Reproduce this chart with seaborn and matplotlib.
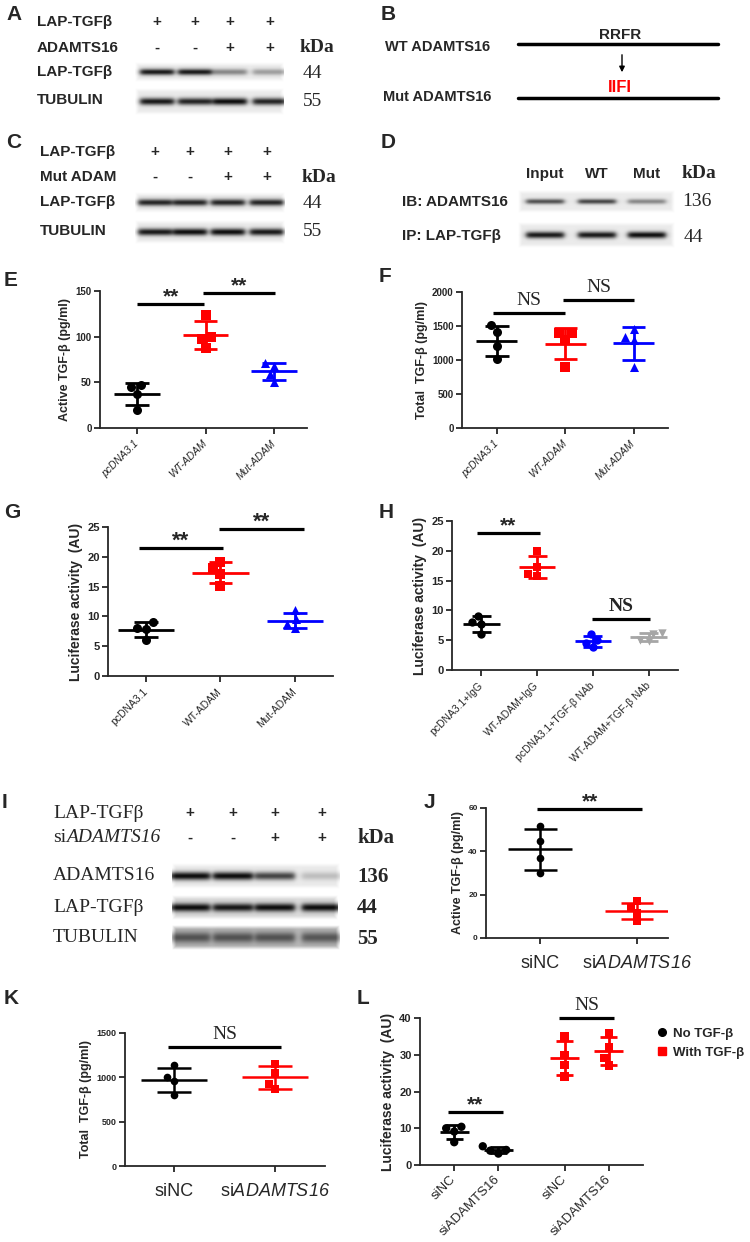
import numpy as np
import pandas as pd
import matplotlib
matplotlib.use('Agg')
import matplotlib.pyplot as plt
from matplotlib.lines import Line2D
import seaborn as sns

# ---- data ----
e_groups = ['pcDNA3.1', 'WT-ADAM', 'Mut-ADAM']
e_vals = [[47, 45, 37, 20], [124, 100, 97, 88], [71, 68, 59, 50]]
e_sig = [(0, 0.98, 135.8, '**'), (0.96, 2.02, 147.8, '**')]

f_vals = [[1510, 1410, 1210, 1010], [1390, 1390, 1290, 900], [1460, 1340, 1290, 890]]
f_sig = [(-0.06, 1.0, 1690, 'NS'), (0.96, 2.01, 1880, 'NS')]

g_vals = [[9.0, 8.1, 7.9, 6.0], [19.1, 18.1, 17.1, 15.1], [11.0, 9.5, 8.7, 8.0]]
g_sig = [(-0.1, 1.04, 21.5, '**'), (0.98, 2.12, 24.7, '**')]

h_groups = ['pcDNA3.1+IgG', 'WT-ADAM+IgG', 'pcDNA3.1+TGF-β NAb', 'WT-ADAM+TGF-β NAb']
h_vals = [[9.1, 8.0, 7.8, 6.0], [20.0, 17.2, 16.1, 15.8], [6.0, 5.0, 4.6, 3.8], [6.2, 6.1, 5.1, 4.9]]
h_sig = [(-0.07, 1.05, 23.0, '**'), (1.98, 3.02, 8.6, 'NS')]

si_groups = ['siNC', 'siADAMTS16']
si_labels = ['siNC', 'si$\\mathsf{ADAMTS16}$']
j_vals = [[51.7, 44.8, 36.9, 30.0], [16.9, 13.8, 11.5, 7.8]]
j_sig = [(-0.03, 1.05, 59.5, '**')]
k_vals = [[1134, 999, 961, 803], [1153, 1051, 923, 867]]
k_sig = [(-0.06, 1.06, 1342, 'NS')]

l_treat = ['No TGF-β', 'With TGF-β']
l_no_tgf = [[10.0, 10.4, 9.1, 6.2], [4.1, 5.1, 3.1, 3.9]]
l_with_tgf = [[35.0, 30.0, 27.3, 24.1], [35.9, 32.0, 29.1, 27.1]]
l_sig = [(-0.26, 0.24, 14.4, '**'), (0.75, 1.25, 40.0, 'NS')]

# western blot band strengths (0 = none, 1 = full)
a_lap = [0.95, 0.95, 0.45, 0.35]
a_tub = [0.95, 0.9, 1.0, 0.9]
c_lap = [0.9, 0.9, 0.9, 0.9]
c_tub = [0.95, 1.0, 1.0, 0.95]
d_ib = [0.7, 0.75, 0.45]
d_ip = [0.95, 0.95, 1.0]
i_adam = [1.0, 1.0, 0.75, 0.2]
i_lap = [1.0, 0.95, 1.0, 1.0]
i_tub = [1.0, 1.0, 1.0, 0.95]

lap_sign = ['+', '+', '+', '+']
treat_sign = ['-', '-', '+', '+']

black, red, blue, grey = '#000000', '#ff0000', '#0000ff', '#a6a6a6'

# ---- style ----
sns.set_style('ticks')
plt.rcParams['font.family'] = ['Liberation Sans', 'DejaVu Sans']
plt.rcParams['mathtext.fontset'] = 'custom'
plt.rcParams['mathtext.rm'] = 'Liberation Sans'
plt.rcParams['mathtext.sf'] = 'Liberation Sans:italic'
plt.rcParams['axes.linewidth'] = 1.3
SERIF = ['Liberation Serif', 'DejaVu Serif']

W, H = 750, 1242
fig = plt.figure(figsize=(7.5, 12.42), dpi=100)


def px_axes(x0, y0, x1, y1):
    return fig.add_axes([x0 / W, 1 - y1 / H, (x1 - x0) / W, (y1 - y0) / H])


ov = fig.add_axes([0, 0, 1, 1], zorder=10)
ov.set_axis_off()
ov.patch.set_alpha(0)


def txt(x, y, s, size, weight='bold', family=None, **kw):
    kw.setdefault('va', 'center')
    kw.setdefault('ha', 'left')
    return ov.text(x, y, s, fontsize=size, fontweight=weight,
                   family=family if family else plt.rcParams['font.family'], **kw)


def blot(box, lanes, levels, half_w, sigma, bg=0.92, dark=0.05):
    x0, x1, y0, y1 = box
    xs = np.linspace(x0, x1, int((x1 - x0) * 2))
    ys = np.linspace(y0, y1, int((y1 - y0) * 2))
    X, Y = np.meshgrid(xs, ys)
    edge = np.clip(np.minimum.reduce([X - x0, x1 - X, Y - y0, y1 - Y]) / 4, 0, 1)
    img = 1 - (1 - bg) * edge
    yc = (y0 + y1) / 2
    for cx, lv in zip(lanes, levels):
        prof = np.exp(-((Y - yc) / sigma) ** 2) * 0.5 * (
            np.tanh((X - cx + half_w) / 3) - np.tanh((X - cx - half_w) / 3))
        img = img - lv * (bg - dark) * prof
    ov.imshow(img, cmap='gray', vmin=0, vmax=1, extent=(x0, x1, y1, y0),
              aspect='auto', interpolation='bilinear', zorder=1)


def dot_panel(ax, groups, vals, colors, markers, size=6.5, mean_w=0.33, cap_w=0.17, lw=2):
    df = pd.DataFrame({'group': np.repeat(groups, [len(v) for v in vals]),
                       'value': np.concatenate(vals)})
    for g, c, m in zip(groups, colors, markers):
        sns.swarmplot(data=df[df.group == g], x='group', y='value', order=groups,
                      color=c, marker=m, size=size, ax=ax, zorder=3)
    stats = df.groupby('group', sort=False)['value'].agg(['mean', 'std'])
    for i, (g, c) in enumerate(zip(groups, colors)):
        mu, sd = stats.loc[g]
        ax.hlines(mu, i - mean_w, i + mean_w, color=c, lw=lw, zorder=2)
        ax.hlines([mu - sd, mu + sd], i - cap_w, i + cap_w, color=c, lw=lw, zorder=2)
        ax.vlines(i, mu - sd, mu + sd, color=c, lw=lw, zorder=2)


def style(ax, ylim, yticks, xlim, tick_fs, ylabel, ylabel_fs):
    ax.set_ylim(*ylim)
    ax.set_yticks(yticks)
    ax.set_xlim(*xlim)
    sns.despine(ax=ax)
    ax.tick_params(width=1.3, length=4, labelsize=tick_fs, pad=2)
    plt.setp(ax.get_yticklabels(), fontweight='bold')
    ax.set_ylabel(ylabel, fontsize=ylabel_fs, fontweight='bold', labelpad=3)
    ax.set_xlabel('')
    ax.patch.set_alpha(0)


def sig(ax, specs, size, ns_weight='normal'):
    for x0, x1, y, lab in specs:
        ax.plot([x0, x1], [y, y], color='k', lw=2.3, clip_on=False, solid_capstyle='butt')
        if lab == '**':
            ax.annotate(lab, xy=((x0 + x1) / 2, y), xytext=(0, 5), textcoords='offset points',
                        ha='center', va='center', fontsize=size, fontweight='bold',
                        annotation_clip=False)
        else:
            ax.annotate(lab, xy=((x0 + x1) / 2, y), xytext=(0, 9), textcoords='offset points',
                        ha='center', va='center', fontsize=size - 1, family=SERIF,
                        fontweight=ns_weight, annotation_clip=False)


# ---- panel letters ----
for s, x, y in [('A', 6, 15), ('B', 381, 15), ('C', 6, 143), ('D', 381, 143),
                ('E', 4, 280), ('F', 379, 276), ('G', 4, 512), ('H', 379, 512),
                ('I', 2, 802), ('J', 424, 802), ('K', 4, 998), ('L', 357, 998)]:
    txt(x, y, s, 15)

# ---- A ----
for y, s in [(22, 'LAP-TGFβ'), (48, 'ADAMTS16'), (72, 'LAP-TGFβ'), (100, 'TUBULIN')]:
    txt(37, y, s, 11)
a_lanes = [157, 195, 230, 270]
for x, p, q in zip(a_lanes, lap_sign, treat_sign):
    txt(x, 22, p, 11, ha='center')
    txt(x, 48, q, 11, ha='center')
txt(300, 48, 'kDa', 14, family=SERIF)
txt(303, 73, '44', 14, weight='normal', family=SERIF)
txt(303, 101, '55', 14, weight='normal', family=SERIF)
blot((135, 284, 62, 82), a_lanes, a_lap, 17, 3.2)
blot((135, 284, 88, 115), a_lanes, a_tub, 17, 3.6)

# ---- C ----
for y, s in [(152, 'LAP-TGFβ'), (177, 'Mut ADAM'), (202, 'LAP-TGFβ'), (231, 'TUBULIN')]:
    txt(40, y, s, 11)
c_lanes = [155, 190, 228, 267]
for x, p, q in zip(c_lanes, lap_sign, treat_sign):
    txt(x, 152, p, 11, ha='center')
    txt(x, 177, q, 11, ha='center')
txt(302, 177, 'kDa', 14, family=SERIF)
txt(303, 203, '44', 14, weight='normal', family=SERIF)
txt(303, 232, '55', 14, weight='normal', family=SERIF)
blot((135, 285, 192, 213), c_lanes, c_lap, 17, 3.4)
blot((135, 285, 220, 244), c_lanes, c_tub, 17, 3.6)

# ---- B ----
txt(385, 47, 'WT ADAMTS16', 10.5)
txt(383, 97, 'Mut ADAMTS16', 10.5)
ov.plot([518, 718], [44, 44], color='k', lw=2.5)
ov.plot([518, 718], [98, 98], color='k', lw=2.5)
txt(620, 35, 'RRFR', 11, ha='center')
txt(620, 88, 'IIFI', 12, ha='center', color=red)
ov.annotate('', xy=(622, 75), xytext=(622, 52),
            arrowprops=dict(arrowstyle='-|>', color='k', lw=1, mutation_scale=8))

# ---- D ----
d_lanes = [545, 597, 647]
for x, s in zip(d_lanes, ['Input', 'WT', 'Mut']):
    txt(x, 174, s, 11, ha='center')
txt(682, 174, 'kDa', 14, family=SERIF)
txt(402, 202, 'IB: ADAMTS16', 11)
txt(402, 236, 'IP: LAP-TGFβ', 11)
txt(682, 202, '136', 14, weight='normal', family=SERIF)
txt(684, 238, '44', 14, weight='normal', family=SERIF)
blot((518, 675, 190, 213), d_lanes, d_ib, 19, 2.6)
blot((518, 675, 222, 248), d_lanes, d_ip, 19, 3.4)

# ---- I ----
t = txt(53, 838, 'si', 14, weight='normal', family=SERIF)
ov.annotate('ADAMTS16', xy=(1, 0), xycoords=t, va='bottom', ha='left', fontsize=14,
            style='italic', family=SERIF)
for y, s in [(813, 'LAP-TGFβ'), (876, 'ADAMTS16'), (907, 'LAP-TGFβ'), (938, 'TUBULIN')]:
    txt(53, y, s, 14, weight='normal', family=SERIF)
i_lanes = [190, 233, 275, 322]
for x, p, q in zip(i_lanes, lap_sign, treat_sign):
    txt(x, 813, p, 11, ha='center')
    txt(x, 838, q, 11, ha='center')
txt(357, 838, 'kDa', 15, family=SERIF)
txt(357, 877, '136', 15, family=SERIF)
txt(357, 908, '44', 15, family=SERIF)
txt(357, 939, '55', 15, family=SERIF)
blot((172, 340, 863, 889), i_lanes, i_adam, 20, 4.2)
blot((172, 338, 895, 920), i_lanes, i_lap, 20, 4.2, bg=0.86)
blot((172, 340, 925, 950), i_lanes, i_tub, 20, 5.5, bg=0.72, dark=0.32)

# ---- E ----
axE = px_axes(100, 291, 307, 428)
dot_panel(axE, e_groups, e_vals, [black, red, blue], ['o', 's', '^'])
style(axE, (0, 150), [0, 50, 100, 150], (-0.54, 2.48), 7, 'Active TGF-β (pg/ml)', 9)
axE.set_xticks(range(3))
axE.set_xticklabels(e_groups, rotation=45, ha='right', va='center', rotation_mode='anchor',
                    fontsize=7.5, style='italic')
axE.tick_params(axis='x', pad=6)
sig(axE, e_sig, 15)

# ---- F ----
axF = px_axes(462, 292, 668, 428)
dot_panel(axF, e_groups, f_vals, [black, red, blue], ['o', 's', '^'], mean_w=0.3)
style(axF, (0, 2000), [0, 500, 1000, 1500, 2000], (-0.51, 2.5), 7, 'Total  TGF-β (pg/ml)', 9)
axF.set_xticks(range(3))
axF.set_xticklabels(e_groups, rotation=45, ha='right', va='center', rotation_mode='anchor',
                    fontsize=7.5, style='italic')
axF.tick_params(axis='x', pad=6)
sig(axF, f_sig, 15)

# ---- G ----
axG = px_axes(108, 527, 333, 676)
dot_panel(axG, e_groups, g_vals, [black, red, blue], ['o', 's', '^'], mean_w=0.38, cap_w=0.16)
style(axG, (0, 25), [0, 5, 10, 15, 20, 25], (-0.51, 2.51), 8, 'Luciferase activity  (AU)', 10)
axG.set_xticks(range(3))
axG.set_xticklabels(e_groups, rotation=45, ha='right', va='center', rotation_mode='anchor',
                    fontsize=7.5)
axG.tick_params(axis='x', pad=6)
sig(axG, g_sig, 16)

# ---- H ----
axH = px_axes(452, 521, 678, 670)
dot_panel(axH, h_groups, h_vals, [black, red, blue, grey], ['o', 's', 'o', 'v'], size=6)
style(axH, (0, 25), [0, 5, 10, 15, 20, 25], (-0.52, 3.52), 8, 'Luciferase activity  (AU)', 10)
axH.set_xticks(range(4))
axH.set_xticklabels(h_groups, rotation=45, ha='right', va='center', rotation_mode='anchor',
                    fontsize=7.5)
axH.tick_params(axis='x', pad=6)
sig(axH, h_sig, 15, ns_weight='bold')

# ---- J ----
axJ = px_axes(486, 808, 668, 938)
dot_panel(axJ, si_groups, j_vals, [black, red], ['o', 's'], size=5.5, lw=1.8)
style(axJ, (0, 60), [0, 20, 40, 60], (-0.56, 1.32), 6, 'Active TGF-β (pg/ml)', 9)
axJ.set_xticks(range(2))
axJ.set_xticklabels(si_labels, fontsize=13)
axJ.tick_params(axis='x', pad=8, labelsize=13)
sig(axJ, j_sig, 15)

# ---- K ----
axK = px_axes(125, 1033, 325, 1166)
dot_panel(axK, si_groups, k_vals, [black, red], ['o', 's'], size=5.5, lw=1.8)
style(axK, (0, 1500), [0, 500, 1000, 1500], (-0.49, 1.5), 6.5, 'Total  TGF-β (pg/ml)', 9)
axK.set_xticks(range(2))
axK.set_xticklabels(si_labels, fontsize=13)
axK.tick_params(axis='x', pad=8, labelsize=13)
sig(axK, k_sig, 15)

# ---- L ----
axL = px_axes(420, 1018, 643, 1165)
l_rows = []
for treat, block in zip(l_treat, [l_no_tgf, l_with_tgf]):
    for si, v in zip(si_groups, block):
        l_rows += [(treat, si, x) for x in v]
l_df = pd.DataFrame(l_rows, columns=['treat', 'sirna', 'value'])
l_colors, l_markers = [black, red], ['o', 's']
for treat, c, m in zip(l_treat, l_colors, l_markers):
    sns.swarmplot(data=l_df[l_df.treat == treat], x='treat', y='value', hue='sirna',
                  order=l_treat, hue_order=si_groups, dodge=True, palette=[c, c],
                  marker=m, size=6, legend=False, ax=axL, zorder=3)
dodge_w = 0.8 / len(si_groups)
l_stats = l_df.groupby(['treat', 'sirna'])['value'].agg(['mean', 'std'])
l_pos = []
for i, (treat, c) in enumerate(zip(l_treat, l_colors)):
    for k, si in enumerate(si_groups):
        x = i + (k - (len(si_groups) - 1) / 2) * dodge_w
        l_pos.append(x)
        mu, sd = l_stats.loc[(treat, si)]
        axL.hlines(mu, x - 0.13, x + 0.13, color=c, lw=2, zorder=2)
        axL.hlines([mu - sd, mu + sd], x - 0.075, x + 0.075, color=c, lw=2, zorder=2)
        axL.vlines(x, mu - sd, mu + sd, color=c, lw=2, zorder=2)
style(axL, (0, 40), [0, 10, 20, 30, 40], (-0.51, 1.51), 8, 'Luciferase activity  (AU)', 10)
axL.set_xticks(l_pos)
axL.set_xticklabels(si_groups * len(l_treat), rotation=45, ha='right', va='center',
                    rotation_mode='anchor', fontsize=9.5)
axL.tick_params(axis='x', pad=5)
sig(axL, l_sig, 15)
handles = [Line2D([], [], ls='', marker=m, color=c, ms=5.5) for c, m in zip(l_colors, l_markers)]
axL.legend(handles, l_treat, loc='upper left', bbox_to_anchor=(1.03, 0.97), frameon=False,
           prop={'weight': 'bold', 'size': 9.5}, handletextpad=0.4, handlelength=1,
           borderaxespad=0, labelspacing=0.5)

ov.set_xlim(0, W)
ov.set_ylim(H, 0)
fig.savefig('out.png', dpi=100)
